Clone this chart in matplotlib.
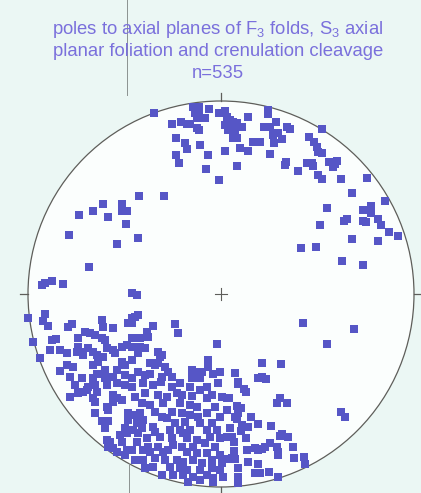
import numpy as np
import matplotlib.pyplot as plt
from matplotlib.patches import Circle

plt.rcParams['font.family'] = ['Liberation Sans', 'DejaVu Sans']
plt.rcParams['mathtext.fontset'] = 'custom'
plt.rcParams['mathtext.rm'] = 'Liberation Sans'
plt.rcParams['mathtext.it'] = 'Liberation Sans'

# digitized pole positions on the net sheet (centre 221,294; primitive radius 193)
NET_CX, NET_CY, NET_R = 221.0, 294.0, 193.0

poles_north = [
    (154, 113), (172, 124), (181, 122), (187, 124), (190, 124), (193, 107), (197, 107),
    (199, 107), (195, 113), (199, 113), (197, 118), (205, 118), (197, 128), (199, 130),
    (209, 109), (176, 138), (185, 143), (187, 149), (200, 145), (176, 155), (179, 163),
    (208, 155), (206, 169), (219, 113), (225, 111), (227, 117), (230, 120), (233, 122),
    (237, 123), (225, 125), (230, 125), (228, 130), (237, 127), (235, 132), (233, 138),
    (237, 138), (225, 151), (240, 148), (237, 166), (219, 180), (164, 196),
    (242, 127), (248, 117), (248, 151), (268, 110), (268, 114), (264, 127), (270, 127),
    (276, 122), (287, 127), (290, 129), (322, 129),
]

poles_east = [
    (253, 142), (260, 142), (274, 143), (273, 135), (278, 133), (282, 139), (270, 154),
    (286, 162), (285, 165), (298, 171), (309, 137), (314, 142), (317, 147), (318, 152),
    (322, 153), (307, 163), (312, 163), (313, 166), (329, 162), (337, 161), (335, 164),
    (333, 167), (318, 175), (322, 179), (341, 179), (367, 178), (352, 193), (385, 201),
    (327, 208), (363, 210), (371, 206), (371, 213), (320, 225), (344, 221), (347, 219),
    (363, 221), (366, 222), (378, 219), (381, 225), (389, 232), (398, 236), (352, 239),
    (378, 241), (301, 248), (316, 247), (342, 261), (363, 265),
    (303, 323), (354, 329), (327, 344),
]

poles_west = [
    (139, 196), (103, 204), (122, 204), (93, 211), (122, 211), (127, 211), (79, 215),
    (108, 217), (126, 224), (69, 235), (138, 238), (117, 244), (89, 267),
    (42, 285), (45, 283), (52, 281), (63, 284), (132, 293), (137, 295),
    (28, 318), (45, 314), (43, 321), (48, 326), (68, 327), (72, 324), (85, 332),
    (90, 333), (95, 335), (102, 320), (103, 327), (113, 328), (102, 338), (105, 340),
    (128, 323), (33, 342), (52, 340), (56, 339), (50, 350), (60, 350), (67, 353),
    (78, 338), (78, 347), (80, 352), (83, 355), (77, 352), (88, 348), (93, 352),
    (97, 355), (103, 357), (107, 348), (113, 350), (115, 353), (122, 347), (127, 345),
    (40, 358), (67, 365), (60, 371), (73, 367), (93, 365), (98, 362), (105, 370),
    (122, 362), (125, 365), (117, 370), (70, 377), (82, 378), (93, 378), (97, 374),
    (105, 378), (113, 377), (125, 375),
]

poles_southwest = [
    (138, 315), (135, 317), (132, 318), (132, 323), (153, 326), (147, 332), (148, 337),
    (175, 324), (178, 333), (132, 338), (140, 338), (132, 347), (140, 347), (145, 348),
    (217, 344), (138, 353), (158, 352), (162, 355), (160, 357), (150, 363), (155, 365),
    (158, 363), (132, 360), (208, 360), (208, 367), (192, 370), (197, 372), (202, 372),
    (138, 372), (145, 375), (150, 374), (165, 367), (168, 372), (172, 377), (162, 377),
    (192, 378), (200, 378), (213, 374), (220, 372), (132, 378),
    (70, 397), (75, 385), (78, 393), (83, 392), (87, 390), (88, 387), (93, 382),
    (95, 385), (97, 392), (93, 398), (95, 402), (107, 385), (117, 383), (125, 385),
    (132, 387), (107, 407), (108, 410), (113, 395), (117, 398), (122, 400), (113, 402),
    (135, 397), (95, 413), (128, 413), (135, 415), (140, 413), (102, 421), (108, 421),
    (105, 428), (128, 420), (137, 423), (125, 428), (127, 433), (133, 430), (138, 433),
    (120, 435), (107, 440), (110, 442), (108, 447), (113, 448), (122, 442), (137, 442),
    (127, 450), (132, 450), (117, 452), (125, 455), (143, 450), (135, 460),
]

poles_south = [
    (143, 383), (153, 385), (161, 382), (172, 387), (180, 383), (190, 387), (200, 390),
    (207, 387), (218, 383), (145, 393), (158, 395), (167, 397), (177, 393), (182, 395),
    (192, 396), (207, 398), (212, 395), (222, 397), (142, 403), (150, 405), (163, 403),
    (180, 403), (190, 405), (197, 407), (215, 407), (155, 412), (172, 412), (182, 413),
    (190, 415), (198, 417), (207, 413), (220, 417), (143, 420), (162, 417), (167, 418),
    (175, 423), (185, 422), (200, 423), (212, 423), (142, 428), (153, 427), (155, 432),
    (170, 430), (180, 430), (190, 430), (207, 430), (217, 430), (147, 438), (160, 437),
    (172, 438), (183, 433), (187, 438), (197, 440), (210, 437), (220, 438), (148, 447),
    (158, 447), (173, 445), (182, 447), (193, 447), (205, 443), (215, 447), (150, 452),
    (163, 452), (168, 450), (187, 452), (197, 453), (207, 453), (220, 455), (143, 460),
    (155, 458), (165, 460), (177, 460), (183, 462), (193, 460), (202, 463), (212, 460),
    (222, 463), (145, 468), (153, 467), (170, 467), (180, 468), (187, 470), (200, 470),
    (212, 468), (220, 470), (162, 475), (173, 475), (183, 475), (193, 477), (207, 475),
    (213, 478), (223, 477), (188, 482), (200, 480), (213, 482),
]

poles_southeast = [
    (262, 363), (281, 364), (235, 373), (258, 378), (262, 377), (266, 379), (238, 382),
    (238, 384), (244, 389), (246, 392), (227, 398), (229, 398), (277, 403), (280, 398),
    (287, 403), (341, 412), (345, 417), (237, 406), (241, 408), (238, 413), (235, 417),
    (237, 419), (251, 417), (227, 410), (230, 428), (242, 425), (248, 427), (258, 424),
    (271, 426), (241, 431), (227, 437), (232, 437), (246, 438), (234, 442), (280, 436),
    (282, 434), (288, 437), (293, 447), (234, 451), (247, 450), (255, 448), (258, 450),
    (262, 449), (265, 447), (270, 443), (277, 447), (278, 452), (278, 455), (227, 459),
    (232, 458), (235, 459), (248, 462), (258, 464), (294, 458), (304, 457), (305, 464),
    (238, 468), (255, 473), (260, 473), (269, 472), (238, 477), (278, 477), (238, 483),
]

title_lines = ["poles to axial planes of F$_3$ folds, S$_3$ axial",
               "planar foliation and crenulation cleavage",
               "n=535"]

BG = '#ebf7f4'
NET_FILL = '#fbfefd'
POLE_COLOR = '#5656c6'
TEXT_COLOR = '#7a70dc'
LINE_COLOR = '#5e5e5a'

pts = np.array(poles_north + poles_east + poles_west + poles_southwest
               + poles_south + poles_southeast, dtype=float)
east = (pts[:, 0] - NET_CX) / NET_R
north = (NET_CY - pts[:, 1]) / NET_R

W, H = 421, 493
fig = plt.figure(figsize=(W / 100, H / 100), dpi=100, facecolor=BG)
ax = fig.add_axes([(NET_CX - NET_R) / W, (H - NET_CY - NET_R) / H,
                   2 * NET_R / W, 2 * NET_R / H])
ax.set_xlim(-1, 1)
ax.set_ylim(-1, 1)
ax.set_aspect('equal')
ax.axis('off')

ax.add_patch(Circle((0, 0), 1, facecolor=NET_FILL, edgecolor=LINE_COLOR,
                    linewidth=0.9, zorder=1, clip_on=False))

# N, S, E, W ticks and centre cross
t = 8 / NET_R
for x0, y0, x1, y1 in [(0, 1, 0, 1 + t), (0, -1, 0, -1 - t),
                       (1, 0, 1 + t, 0), (-1, 0, -1 - t, 0)]:
    ax.plot([x0, x1], [y0, y1], color=LINE_COLOR, lw=0.9, clip_on=False, zorder=2)
c = 6 / NET_R
ax.plot([-c, c], [0, 0], color=LINE_COLOR, lw=0.8, zorder=2)
ax.plot([0, 0], [-c, c], color=LINE_COLOR, lw=0.8, zorder=2)

ax.scatter(east, north, marker='s', s=26, color=POLE_COLOR, edgecolors='none',
           zorder=3, clip_on=False)

# sheet fold line
fig.add_artist(plt.Line2D([127 / W, 127 / W], [1, 1 - 95 / H], color='#8c9290',
                          lw=0.7, transform=fig.transFigure))
fig.add_artist(plt.Line2D([129 / W, 129 / W], [1 - 463 / H, 0], color='#8c9290',
                          lw=0.7, transform=fig.transFigure))

for i, line in enumerate(title_lines):
    fig.text(218 / W, 1 - (30 + 21.5 * i) / H, line, ha='center', va='center',
             fontsize=13.3, color=TEXT_COLOR)

fig.savefig('out.png', dpi=100, facecolor=BG)
